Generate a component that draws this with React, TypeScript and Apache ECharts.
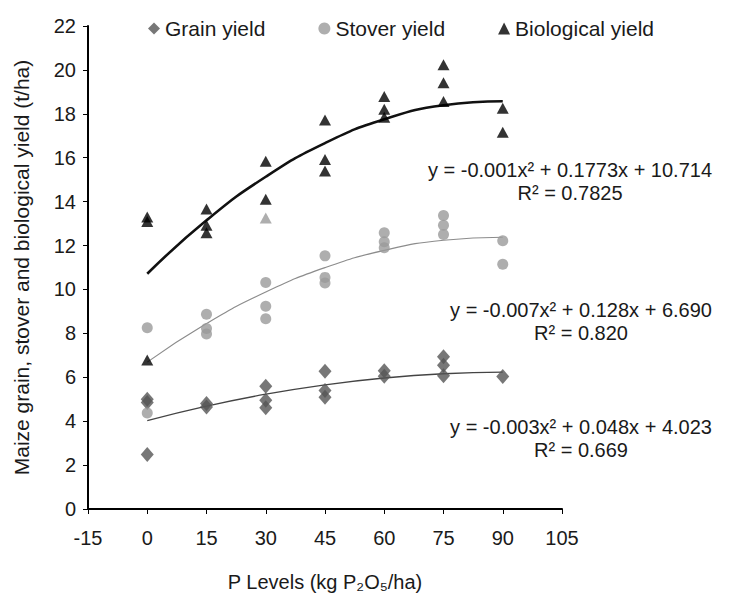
import React, { useEffect, useRef } from "react";
import * as echarts from "echarts";

// P levels (kg P2O5/ha)
const pLevels = [0, 15, 30, 45, 60, 75, 90];

// Observed points [P level, yield t/ha]
const grainPoints = [
  [0, 5.0], [0, 4.85], [0, 2.48],
  [15, 4.8], [15, 4.65],
  [30, 5.59], [30, 4.95], [30, 4.61],
  [45, 6.27], [45, 5.4], [45, 5.09],
  [60, 6.3], [60, 6.05],
  [75, 6.94], [75, 6.55], [75, 6.07],
  [90, 6.04],
];
const stoverPoints = [
  [0, 8.26], [0, 4.37],
  [15, 8.87], [15, 8.22], [15, 7.97],
  [30, 10.32], [30, 9.23], [30, 8.67],
  [45, 11.53], [45, 10.55], [45, 10.29],
  [60, 12.58], [60, 12.17], [60, 11.9],
  [75, 13.37], [75, 12.92], [75, 12.5],
  [90, 12.22], [90, 11.15],
];
const biologicalPoints = [
  [0, 13.3], [0, 13.1], [0, 6.79],
  [15, 13.66], [15, 12.93], [15, 12.58],
  [30, 15.84], [30, 14.11],
  [45, 17.72], [45, 15.92], [45, 15.39],
  [60, 18.79], [60, 18.21], [60, 17.84],
  [75, 20.24], [75, 19.42], [75, 18.56],
  [90, 18.25], [90, 17.16],
];
const biologicalGrayPoints = [[30, 13.25]];

// Quadratic trendline coefficients [c, b, a] : y = a x^2 + b x + c
const biologicalFit = [10.714, 0.1773, -0.001];
const stoverFit = [6.69, 0.128, -0.00072];
const grainFit = [4.023, 0.048, -0.00026];

// Equation labels
const biologicalEq = ["y = -0.001x² + 0.1773x + 10.714", "R² = 0.7825"];
const stoverEq = ["y = -0.007x² + 0.128x + 6.690", "R² = 0.820"];
const grainEq = ["y = -0.003x² + 0.048x + 4.023", "R² = 0.669"];

const xTicks = [-15, 105, 15];
const yTicks = [0, 22, 2];

const FONT = "'Liberation Sans', Arial, sans-serif";
const TXT = "#1a1a1a";
const GRAIN_C = "#555555";
const STOVER_C = "#9a9a9a";
const BIO_C = "#000000";

const trend = (coef: number[]) =>
  pLevels.map((x) => [x, coef[0] + coef[1] * x + coef[2] * x * x]);

const eqText = (lines: string[], x: number, y: number) => ({
  type: "text",
  x,
  y,
  style: {
    text: lines.join("\n"),
    fontFamily: FONT,
    fontSize: 20,
    lineHeight: 23,
    fill: TXT,
    align: "center",
    verticalAlign: "middle",
  },
});

export default function App() {
  const ref = useRef<HTMLDivElement>(null);
  useEffect(() => {
    if (!ref.current) return;
    document.body.style.margin = "0";
    const chart = echarts.init(ref.current, null, { renderer: "svg" });
    chart.setOption({
      animation: false,
      backgroundColor: "#ffffff",
      textStyle: { fontFamily: FONT },
      grid: { left: 88, right: 168, top: 26, bottom: 83, containLabel: false },
      legend: {
        data: ["Grain yield", "Stover yield", "Biological yield"],
        left: 143,
        top: 13,
        itemWidth: 12,
        itemHeight: 12,
        itemGap: 53,
        textStyle: { fontFamily: FONT, fontSize: 21, color: TXT },
      },
      xAxis: {
        type: "value",
        min: xTicks[0],
        max: xTicks[1],
        interval: xTicks[2],
        name: "P Levels (kg P₂O₅/ha)",
        nameLocation: "middle",
        nameGap: 63,
        nameTextStyle: { fontFamily: FONT, fontSize: 20, color: TXT },
        axisLine: { show: true, onZero: false, lineStyle: { color: "#000", width: 2 } },
        axisTick: { show: true, inside: false, length: 5, lineStyle: { color: "#000", width: 1 } },
        axisLabel: { fontFamily: FONT, fontSize: 20, color: TXT, margin: 19 },
        splitLine: { show: false },
      },
      yAxis: {
        type: "value",
        min: yTicks[0],
        max: yTicks[1],
        interval: yTicks[2],
        name: "Maize grain, stover and biological yield (t/ha)",
        nameLocation: "middle",
        nameGap: 56,
        nameTextStyle: { fontFamily: FONT, fontSize: 21, color: TXT },
        axisLine: { show: true, onZero: false, lineStyle: { color: "#000", width: 2 } },
        axisTick: { show: true, inside: false, length: 5, lineStyle: { color: "#000", width: 1 } },
        axisLabel: { fontFamily: FONT, fontSize: 20, color: TXT, margin: 12 },
        splitLine: { show: false },
      },
      series: [
        {
          name: "Grain yield trend",
          type: "line",
          data: trend(grainFit),
          smooth: true,
          showSymbol: false,
          lineStyle: { color: "#444", width: 1.3 },
          z: 1,
        },
        {
          name: "Stover yield trend",
          type: "line",
          data: trend(stoverFit),
          smooth: true,
          showSymbol: false,
          lineStyle: { color: "#8c8c8c", width: 1.2 },
          z: 1,
        },
        {
          name: "Biological yield trend",
          type: "line",
          data: trend(biologicalFit),
          smooth: true,
          showSymbol: false,
          lineStyle: { color: "#111", width: 2.6 },
          z: 1,
        },
        {
          name: "Grain yield",
          type: "scatter",
          symbol: "diamond",
          symbolSize: [13, 15],
          itemStyle: { color: GRAIN_C },
          data: grainPoints,
          z: 3,
        },
        {
          name: "Stover yield",
          type: "scatter",
          symbol: "circle",
          symbolSize: 11,
          itemStyle: { color: STOVER_C },
          data: stoverPoints,
          z: 3,
        },
        {
          name: "Biological yield",
          type: "scatter",
          symbol: "triangle",
          symbolSize: [12, 11],
          itemStyle: { color: BIO_C },
          data: [
            ...biologicalPoints,
            ...biologicalGrayPoints.map((p) => ({ value: p, itemStyle: { color: STOVER_C } })),
          ],
          z: 3,
        },
      ],
      graphic: [
        eqText(biologicalEq, 570, 181),
        eqText(stoverEq, 581, 321),
        eqText(grainEq, 581, 438),
      ],
    });
    return () => chart.dispose();
  }, []);
  return <div ref={ref} style={{ width: 730, height: 597 }} />;
}
